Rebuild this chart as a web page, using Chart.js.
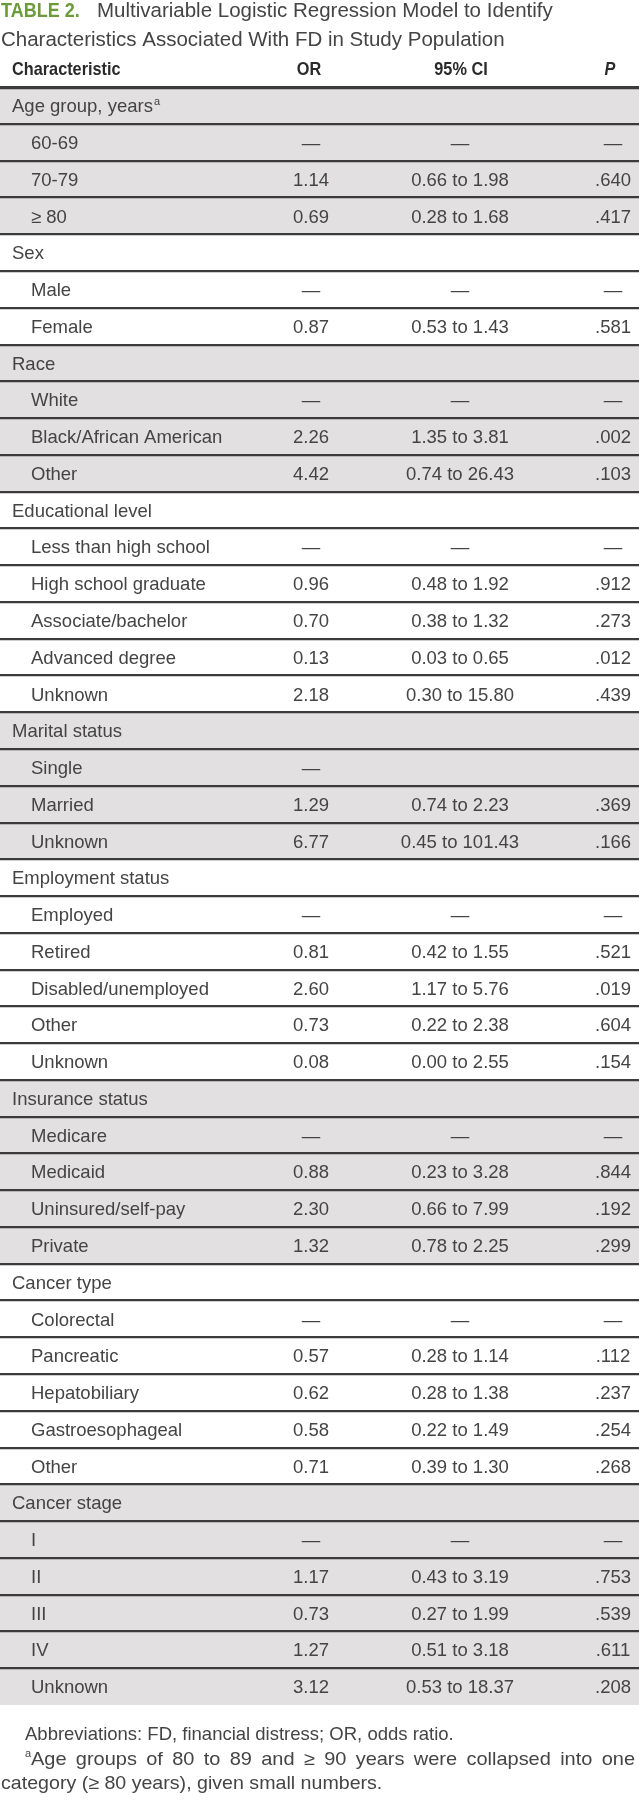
<!DOCTYPE html>
<html>
<head>
<meta charset="utf-8">
<script src="https://cdn.jsdelivr.net/npm/chart.js@4.4.1/dist/chart.umd.min.js"></script>
<style>
  html, body { margin: 0; padding: 0; background: #fff; }
  #wrap { position: relative; width: 639px; height: 1812px; }
</style>
</head>
<body>
<div id="wrap"><canvas id="myChart"></canvas></div>
<script>
// Table content
const characteristics = [
    'Age group, years', '60-69', '70-79', '≥ 80',
    'Sex', 'Male', 'Female',
    'Race', 'White', 'Black/African American', 'Other',
    'Educational level', 'Less than high school', 'High school graduate', 'Associate/bachelor', 'Advanced degree', 'Unknown',
    'Marital status', 'Single', 'Married', 'Unknown',
    'Employment status', 'Employed', 'Retired', 'Disabled/unemployed', 'Other', 'Unknown',
    'Insurance status', 'Medicare', 'Medicaid', 'Uninsured/self-pay', 'Private',
    'Cancer type', 'Colorectal', 'Pancreatic', 'Hepatobiliary', 'Gastroesophageal', 'Other',
    'Cancer stage', 'I', 'II', 'III', 'IV', 'Unknown'
];
const groupLabels = ['Age group, years', 'Sex', 'Race', 'Educational level', 'Marital status',
    'Employment status', 'Insurance status', 'Cancer type', 'Cancer stage'];
const superscriptRows = ['Age group, years'];

const oddsRatios = [
    '', '—', '1.14', '0.69',
    '', '—', '0.87',
    '', '—', '2.26', '4.42',
    '', '—', '0.96', '0.70', '0.13', '2.18',
    '', '—', '1.29', '6.77',
    '', '—', '0.81', '2.60', '0.73', '0.08',
    '', '—', '0.88', '2.30', '1.32',
    '', '—', '0.57', '0.62', '0.58', '0.71',
    '', '—', '1.17', '0.73', '1.27', '3.12'
];
const confIntervals = [
    '', '—', '0.66 to 1.98', '0.28 to 1.68',
    '', '—', '0.53 to 1.43',
    '', '—', '1.35 to 3.81', '0.74 to 26.43',
    '', '—', '0.48 to 1.92', '0.38 to 1.32', '0.03 to 0.65', '0.30 to 15.80',
    '', '', '0.74 to 2.23', '0.45 to 101.43',
    '', '—', '0.42 to 1.55', '1.17 to 5.76', '0.22 to 2.38', '0.00 to 2.55',
    '', '—', '0.23 to 3.28', '0.66 to 7.99', '0.78 to 2.25',
    '', '—', '0.28 to 1.14', '0.28 to 1.38', '0.22 to 1.49', '0.39 to 1.30',
    '', '—', '0.43 to 3.19', '0.27 to 1.99', '0.51 to 3.18', '0.53 to 18.37'
];
const pValues = [
    '', '—', '.640', '.417',
    '', '—', '.581',
    '', '—', '.002', '.103',
    '', '—', '.912', '.273', '.012', '.439',
    '', '', '.369', '.166',
    '', '—', '.521', '.019', '.604', '.154',
    '', '—', '.844', '.192', '.299',
    '', '—', '.112', '.237', '.254', '.268',
    '', '—', '.753', '.539', '.611', '.208'
];

const columnHeads = ['Characteristic', 'OR', '95% CI', 'P'];
const titleLabel = 'TABLE 2.';
const titleLines = ['Multivariable Logistic Regression Model to Identify',
    'Characteristics Associated With FD in Study Population'];
const footnotes = ['Abbreviations: FD, financial distress; OR, odds ratio.',
    'Age groups of 80 to 89 and ≥ 90 years were collapsed into one',
    'category (≥ 80 years), given small numbers.'];

// Layout / style
const FONT = '"Liberation Sans", Arial, sans-serif';
const TEXT = '#444444';
const GREEN = '#6b9b3a';
const SHADE = '#e2e0e1';
const RULE = '#3b3b3b';
const colX = { label: 12, indent: 31, or: 311, ci: 460, p: 613 };

// which group each row belongs to -> alternate shading
let g = -1;
const rowGroup = characteristics.map(c => {
    if (groupLabels.includes(c)) g++;
    return g;
});

function drawText(ctx, str, x, y, opts = {}) {
    ctx.save();
    ctx.font = opts.font || `18.5px ${FONT}`;
    ctx.fillStyle = opts.color || TEXT;
    ctx.textAlign = opts.align || 'left';
    ctx.textBaseline = 'alphabetic';
    ctx.translate(x, y);
    ctx.scale(opts.sx || 1, 1);
    ctx.fillText(str, 0, 0);
    const w = ctx.measureText(str).width * (opts.sx || 1);
    ctx.restore();
    return w;
}

// spread the words of a line between x0 and x1
function drawJustified(ctx, str, x0, x1, y, sx) {
    ctx.save();
    ctx.font = `18.5px ${FONT}`;
    const words = str.split(' ');
    const widths = words.map(w => ctx.measureText(w).width * sx);
    const gap = (x1 - x0 - widths.reduce((a, b) => a + b, 0)) / (words.length - 1);
    ctx.restore();
    let x = x0;
    words.forEach((w, i) => {
        drawText(ctx, w, x, y, { sx });
        x += widths[i] + gap;
    });
}

const tableText = {
    id: 'tableText',
    afterDraw(chart) {
        const ctx = chart.ctx;
        const yScale = chart.scales.y;

        // title
        drawText(ctx, titleLabel, 1, 17, { font: `bold 20px ${FONT}`, color: GREEN, sx: 0.9 });
        drawText(ctx, titleLines[0], 97, 17, { font: `20.5px ${FONT}` });
        drawText(ctx, titleLines[1], 1, 45.5, { font: `20.5px ${FONT}` });

        // column heads
        const headFont = `bold 18.5px ${FONT}`;
        const headColor = '#2a2a2a';
        drawText(ctx, columnHeads[0], colX.label, 75, { font: headFont, sx: 0.88, color: headColor });
        drawText(ctx, columnHeads[1], colX.or - 2, 75, { font: headFont, sx: 0.88, align: 'center', color: headColor });
        drawText(ctx, columnHeads[2], colX.ci + 1, 75, { font: headFont, sx: 0.88, align: 'center', color: headColor });
        drawText(ctx, columnHeads[3], colX.p - 3, 75, { font: 'italic ' + headFont, sx: 0.88, align: 'center', color: headColor });

        // cells
        characteristics.forEach((label, i) => {
            const yy = yScale.getPixelForValue(i) + 6.6;
            const isGroup = groupLabels.includes(label);
            const x = isGroup ? colX.label : colX.indent;
            const w = drawText(ctx, label, x, yy);
            if (superscriptRows.includes(label)) {
                drawText(ctx, 'a', x + w + 1, yy - 7, { font: `11px ${FONT}` });
            }
            drawText(ctx, oddsRatios[i], colX.or, yy, { align: 'center' });
            drawText(ctx, confIntervals[i], colX.ci, yy, { align: 'center' });
            drawText(ctx, pValues[i], colX.p, yy, { align: 'center' });
        });

        // footnotes
        drawText(ctx, footnotes[0], 25, 1740);
        drawText(ctx, 'a', 25, 1757, { font: `11px ${FONT}` });
        drawJustified(ctx, footnotes[1], 31, 635, 1764.5, 1.08);
        drawText(ctx, footnotes[2], 1, 1789, { sx: 1.06 });
    }
};

const ctx = document.getElementById('myChart').getContext('2d');
new Chart(ctx, {
    type: 'bar',
    data: {
        labels: characteristics,
        datasets: [{
            data: characteristics.map(() => [0, 1]),
            backgroundColor: rowGroup.map(gi => gi % 2 === 0 ? SHADE : '#ffffff'),
            borderWidth: 0,
            barPercentage: 1,
            categoryPercentage: 1
        }]
    },
    options: {
        indexAxis: 'y',
        responsive: true,
        maintainAspectRatio: false,
        animation: false,
        events: [],
        layout: { padding: { top: 87.3, bottom: 1812 - 1705, left: 0, right: 0 } },
        plugins: { legend: { display: false }, tooltip: { enabled: false }, title: { display: false } },
        scales: {
            x: { display: false, min: 0, max: 1 },
            y: {
                ticks: { display: false },
                border: { display: false },
                grid: {
                    z: 1,
                    offset: true,
                    drawTicks: false,
                    color: RULE,
                    lineWidth: c => {
                        if (c.type !== 'tick') return 0;
                        return c.index === 0 ? 3.3 : 2.2;
                    }
                },
                afterFit: s => { s.width = 0; }
            }
        }
    },
    plugins: [tableText]
});
</script>
</body>
</html>
